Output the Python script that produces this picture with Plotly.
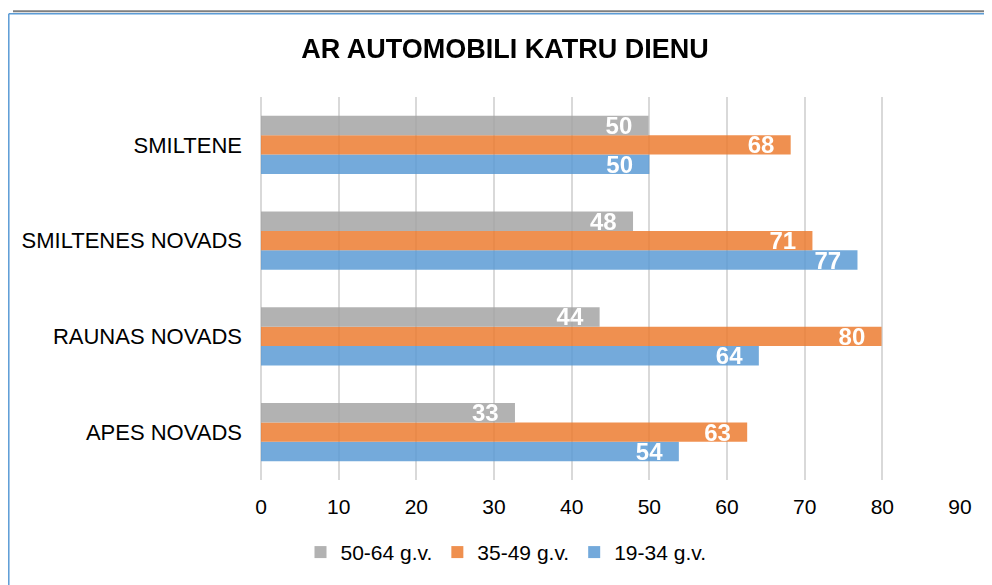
import plotly.graph_objects as go

categories = ['APES NOVADS', 'RAUNAS NOVADS', 'SMILTENES NOVADS', 'SMILTENE']
age_19_34 = [53.8, 64.1, 76.8, 50.0]
age_35_49 = [62.6, 79.9, 71.0, 68.2]
age_50_64 = [32.7, 43.6, 47.9, 49.9]

series = [
    ('19-34 g.v.', age_19_34, '#5b9bd5'),
    ('35-49 g.v.', age_35_49, '#ed7d31'),
    ('50-64 g.v.', age_50_64, '#a5a5a5'),
]

FONT = 'Liberation Sans, Arial, sans-serif'

fig = go.Figure()
for name, values, color in series:
    fig.add_trace(go.Bar(
        y=categories, x=values, name=name, orientation='h',
        marker=dict(color=color, line=dict(width=0)), opacity=0.85,
        texttemplate='%{x:.0f}\u00a0\u00a0', textposition='inside',
        insidetextanchor='end', cliponaxis=False,
        textfont=dict(family=FONT, size=24, color='white', weight='bold'),
    ))

# page has an 8px body margin; plot area on screen: x 261..960, y 97..483
def px(x):
    return (x - 261) / 699


def py(y):
    return (483 - y) / 386


fig.update_layout(
    width=984, height=577,
    margin=dict(l=253, r=32, t=89, b=102),
    paper_bgcolor='white', plot_bgcolor='white',
    font=dict(family=FONT, size=21, color='#000000'),
    title=dict(text='<b>AR AUTOMOBILI KATRU DIENU</b>', x=(505 - 8) / 984, xanchor='center',
               yref='container', y=1 - (49 - 8) / 577, yanchor='middle',
               font=dict(family=FONT, size=27, color='#000000')),
    barmode='group', bargap=0.39, bargroupgap=0,
    uniformtext=dict(minsize=24, mode='show'),
    showlegend=True,
    legend=dict(orientation='h', traceorder='reversed', x=px(506), xanchor='center',
                y=py(556), yanchor='middle', font=dict(family=FONT, size=21, color='#000000'),
                itemclick=False),
    xaxis=dict(range=[0, 90], dtick=10, showgrid=True, gridcolor='#d9d9d9', gridwidth=2,
               zeroline=True, zerolinecolor='#d9d9d9', zerolinewidth=2,
               showline=False, ticks='', ticklabelstandoff=12, fixedrange=True,
               tickfont=dict(size=21)),
    yaxis=dict(range=[-0.5, 3.5], showgrid=False, zeroline=False, showline=False,
               ticks='', ticklabelstandoff=18, fixedrange=True, tickfont=dict(size=22)),
    shapes=[
        dict(type='line', xref='paper', yref='paper', x0=px(13), x1=px(992), y0=py(10.5), y1=py(10.5),
             line=dict(color='#7f7f7f', width=2)),
        dict(type='line', xref='paper', yref='paper', x0=px(8.8), x1=px(992), y0=py(13), y1=py(13),
             line=dict(color='#5b9bd5', width=1.5)),
        dict(type='line', xref='paper', yref='paper', x0=px(8.8), x1=px(8.8), y0=py(13), y1=py(590),
             line=dict(color='#5b9bd5', width=1.5)),
    ],
)

fig.write_html('out.html')
